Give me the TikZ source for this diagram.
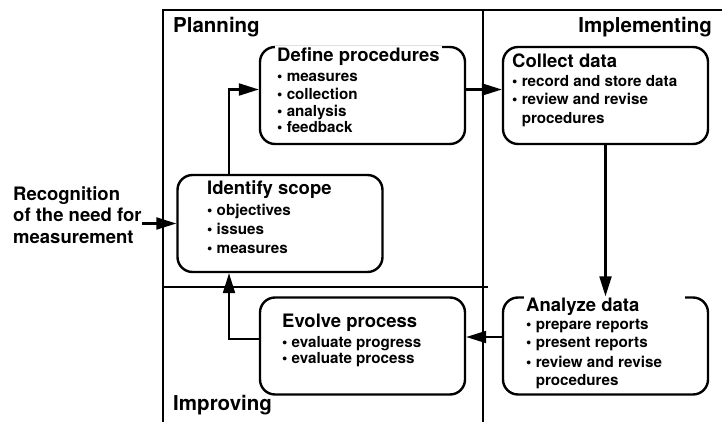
\documentclass[tikz,border=0pt]{standalone}
\usepackage{fontspec}
\setmainfont{TeX Gyre Heros}
\usetikzlibrary{arrows.meta,positioning,calc}
\newcommand{\blt}{\textbullet\ }

\begin{document}
\begin{tikzpicture}[x=1pt,y=-1pt,font=\bfseries,
 box/.style={draw,rounded corners=15pt,line width=2.4pt,minimum width=205pt,minimum height=97pt,inner sep=0pt},
 ttl/.style={anchor=base west,inner sep=0pt,font=\bfseries\fontsize{18.5}{22}\selectfont},
 item/.style={anchor=base west,inner sep=0pt,font=\bfseries\fontsize{15.2}{18}\selectfont},
 lbl/.style={inner sep=0pt,font=\bfseries\fontsize{20.5}{24}\selectfont},
 arr/.style={line width=2.1pt,-{Triangle[length=20pt,width=12pt]}}]
\useasboundingbox (0,0) rectangle (722,422);
% quadrants
\draw[line width=2.2pt] (722,10) -- (163,10) -- (163,422);
\draw[line width=2.2pt] (483,10) -- (483,422);
\draw[line width=2.2pt] (163,287) -- (488,287);
\node[lbl,anchor=base west] (plan) at (173,33) {Planning};
\node[lbl,anchor=base east] (impl) at (712,33) {Implementing};
\node[lbl,anchor=base west] (impr) at (173,410) {Improving};
% boxes
\node[box] (defn) at (362.5,95.5) {};
\node[box] (coll) at (605.5,95.5) {};
\node[box] (iden) at (280,223.5) {};
\node[box] (evol) at (362.5,346) {};
\node[box] (anal) at (605.5,346) {};
\node[ttl,fill=white,inner sep=2pt] (defn-t) at (275,62) {Define procedures};
\node[ttl] (coll-t) at (512,68) {Collect data};
\node[ttl] (iden-t) at (207,194) {Identify scope};
\node[ttl] (evol-t) at (282,327) {Evolve process};
\node[ttl,fill=white,inner sep=2pt] (anal-t) at (524,311) {\makebox[157pt][l]{Analyze data}};
\foreach \y/\t [count=\i] in {82/measures,100/collection,117/analysis,133/feedback}
 \node[item] (defn-\i) at (277,\y) {\blt\t};
\foreach \y/\t [count=\i] in {87/\blt record and store data,105/\blt review and revise,124/\hphantom{\blt}procedures}
 \node[item] (coll-\i) at (512,\y) {\t};
\foreach \y/\t [count=\i] in {215/objectives,234/issues,253/measures}
 \node[item] (iden-\i) at (207,\y) {\blt\t};
\foreach \y/\t [count=\i] in {347/evaluate progress,363/evaluate process}
 \node[item] (evol-\i) at (282,\y) {\blt\t};
\foreach \y/\t [count=\i] in {329/\blt prepare reports,347/\blt present reports,367/\blt review and revise,385/\hphantom{\blt}procedures}
 \node[item] (anal-\i) at (526,\y) {\t};
\node[align=left,anchor=west,inner sep=0pt,font=\bfseries\fontsize{18.5}{21.5}\selectfont] (need) at (13,215) {Recognition\\of the need for\\measurement};
% flow
\draw[arr] (need.east |- iden.west) -- (iden.west);
\draw[arr] ([xshift=-51pt]iden.north) |- ([yshift=6pt]defn.west);
\draw[arr] ([yshift=6pt]defn.east) -- ([yshift=6pt]coll.west);
\draw[arr] (coll.south) -- (anal.north);
\draw[arr] ([yshift=9pt]anal.west) -- ([yshift=9pt]evol.east);
\draw[arr] ([yshift=7pt]evol.west) -| ([xshift=-51pt]iden.south);
\end{tikzpicture}
\end{document}
